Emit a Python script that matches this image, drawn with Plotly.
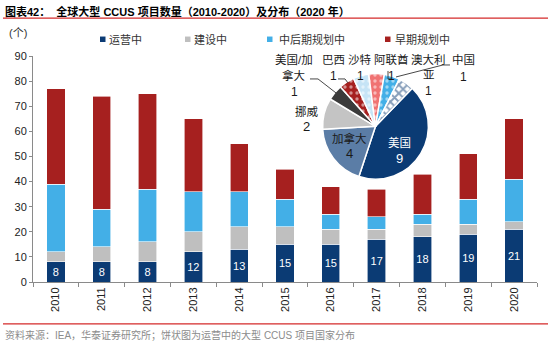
import plotly.graph_objects as go

# ---- data -------------------------------------------------------------
years = ["2010", "2011", "2012", "2013", "2014", "2015", "2016", "2017", "2018", "2019", "2020"]
operating = [8, 8, 8, 12, 13, 15, 15, 17, 18, 19, 21]
construction = [4, 6, 8, 8, 9, 7, 6, 4, 5, 4, 3]
late_planning = [27, 15, 21, 16, 14, 11, 6, 5, 4, 10, 17]
early_planning = [38, 45, 38, 29, 19, 12, 11, 11, 16, 18, 24]
series_names = ["运营中", "建设中", "中后期规划中", "早期规划中"]

countries = ["美国", "加拿大", "挪威", "美国/加拿大", "巴西", "沙特", "阿联酋", "澳大利亚", "中国"]
country_counts = [9, 4, 2, 1, 1, 1, 1, 1, 1]

y_ticks = [0, 10, 20, 30, 40, 50, 60, 70, 80, 90]

# ---- styling ----------------------------------------------------------
NAVY = "#0B3B74"
GRAY = "#BFBFBF"
LIGHT = "#43AFE7"
RED = "#A6201F"
series_colors = [NAVY, GRAY, LIGHT, RED]
pie_colors = [NAVY, "#5B7DA6", "#C4C4C4", "#3B3B3B", RED, "#C6E4F6", "#F07272", LIGHT, "#FFFFFF"]
pie_shapes = ["", "", "", "", ".", ".", ".", ".", "x"]
pie_fg = ["#FFFFFF"] * 8 + [NAVY]
pie_size = [6] * 8 + [6]
pie_solidity = [0.25] * 8 + [0.55]

FONT = "Liberation Sans, Arial, Noto Sans CJK SC"
W, H = 550, 346
PL, PR, PT, PB = 33, 537, 56, 282.5


def px(x):
    return (x - PL) / (PR - PL)


def py(y):
    return (PB - y) / (PB - PT)


fig = go.Figure()

for name, vals, color in zip(series_names, [operating, construction, late_planning, early_planning], series_colors):
    is_op = name == "运营中"
    fig.add_trace(go.Bar(
        x=years, y=vals, name=name,
        marker=dict(color=color, line=dict(color="white", width=0.6)),
        text=[str(v) for v in vals] if is_op else None,
        textposition="inside" if is_op else "none",
        insidetextanchor="middle",
        textangle=0,
        textfont=dict(color="white", size=11, family=FONT),
        showlegend=False,
        hoverinfo="skip",
    ))

# pie of operating projects by country; labels are placed as annotations below
fig.add_trace(go.Pie(
    labels=countries, values=country_counts, sort=False,
    direction="clockwise", rotation=44,
    domain=dict(x=[px(322.5), px(428.5)], y=[py(179.5), py(73.5)]),
    marker=dict(colors=pie_colors, line=dict(color="white", width=1.5),
                pattern=dict(shape=pie_shapes, fgcolor=pie_fg, size=pie_size,
                             solidity=pie_solidity, fillmode="overlay")),
    textinfo="none",
    showlegend=False, hoverinfo="skip",
))

annotations = []
shapes = []

# title and rules
annotations.append(dict(
    x=px(3), y=py(11), xref="paper", yref="paper", xanchor="left", yanchor="middle",
    text="<b>图表42：\u00a0\u00a0全球大型 CCUS 项目数量（2010-2020）及分布（2020 年）</b>",
    showarrow=False, font=dict(size=11, family=FONT, color="#000000")))
for yy in (18, 324.5):
    shapes.append(dict(type="line", xref="paper", yref="paper",
                       x0=px(3), x1=px(548), y0=py(yy), y1=py(yy),
                       line=dict(color="#D42A2A", width=1.3)))
annotations.append(dict(
    x=px(3), y=py(336), xref="paper", yref="paper", xanchor="left", yanchor="middle",
    text="资料来源：IEA，华泰证券研究所；饼状图为运营中的大型 CCUS 项目国家分布",
    showarrow=False, font=dict(size=10, family=FONT, color="#8C8C8C")))
annotations.append(dict(
    x=px(7), y=py(32.5), xref="paper", yref="paper", xanchor="left", yanchor="middle",
    text="(个)", showarrow=False, font=dict(size=11, family=FONT, color="#333333")))

# legend row
legend_pos = [(100, 107), (185, 192), (267, 276.5), (385, 393)]
for name, color, (sx, tx) in zip(series_names, series_colors, legend_pos):
    shapes.append(dict(type="rect", xref="paper", yref="paper",
                       x0=px(sx), x1=px(sx + 5.5), y0=py(42), y1=py(36.5),
                       fillcolor=color, line=dict(width=0)))
    annotations.append(dict(
        x=px(tx), y=py(39.5), xref="paper", yref="paper", xanchor="left", yanchor="middle",
        text=name, showarrow=False, font=dict(size=11, family=FONT, color="#333333")))

# pie labels: each line placed individually (x, first-line y, line step)
label_lines = {"美国/加拿大": ["美国/加", "拿大"], "澳大利亚": ["澳大利", "亚"]}
label_xy = {
    "美国": (399, 143, 15.5), "加拿大": (349, 139, 14.5), "挪威": (306.5, 112, 14.5),
    "美国/加拿大": (294, 60, 16), "巴西": (333, 60, 16), "沙特": (360, 60, 16),
    "阿联酋": (391, 60, 16), "澳大利亚": (428.5, 60, 15.5), "中国": (463, 60, 17.5),
}
for name, cnt in zip(countries, country_counts):
    lx, ly, step = label_xy[name]
    color = "white" if name == "美国" else "#1A1A1A"
    lines = label_lines.get(name, [name]) + [str(cnt)]
    for i, line in enumerate(lines):
        is_val = i == len(lines) - 1
        annotations.append(dict(
            x=px(lx), y=py(ly + i * step), xref="paper", yref="paper",
            xanchor="center", yanchor="middle", text=line, showarrow=False,
            font=dict(size=(13 if name in ("美国", "加拿大", "挪威") else 12) if is_val else 11.5,
                      family=FONT, color=color)))

leaders = [
    [(310, 79), (318, 79), (336, 93)],
    [(338, 79), (345, 79), (348, 83)],
    [(388, 71), (388, 79), (391, 79)],
    [(396, 77), (443, 65), (450, 65)],
]
for pts in leaders:
    path = "M " + " L ".join(f"{px(x):.5f},{py(y):.5f}" for x, y in pts)
    shapes.append(dict(type="path", xref="paper", yref="paper", path=path,
                       line=dict(color="#333333", width=0.9)))

fig.update_layout(
    width=W, height=H,
    margin=dict(l=PL, r=W - PR, t=PT, b=H - PB, pad=0),
    paper_bgcolor="white", plot_bgcolor="white",
    barmode="stack", bargap=0.6,
    font=dict(family=FONT, size=11, color="#222222"),
    annotations=annotations, shapes=shapes,
    xaxis=dict(type="category", tickangle=-90, showline=True, linecolor="#8A8A8A", linewidth=1,
               ticks="outside", tickson="boundaries", ticklen=4, tickcolor="#8A8A8A",
               tickfont=dict(size=11, color="#222222"), showgrid=False),
    yaxis=dict(range=[0, 90], tickvals=y_ticks, showline=True, linecolor="#8A8A8A", linewidth=1,
               ticks="outside", ticklen=3, tickcolor="#8A8A8A", showgrid=False, zeroline=False,
               tickfont=dict(size=11, color="#222222")),
)

fig.write_html("out.html")
